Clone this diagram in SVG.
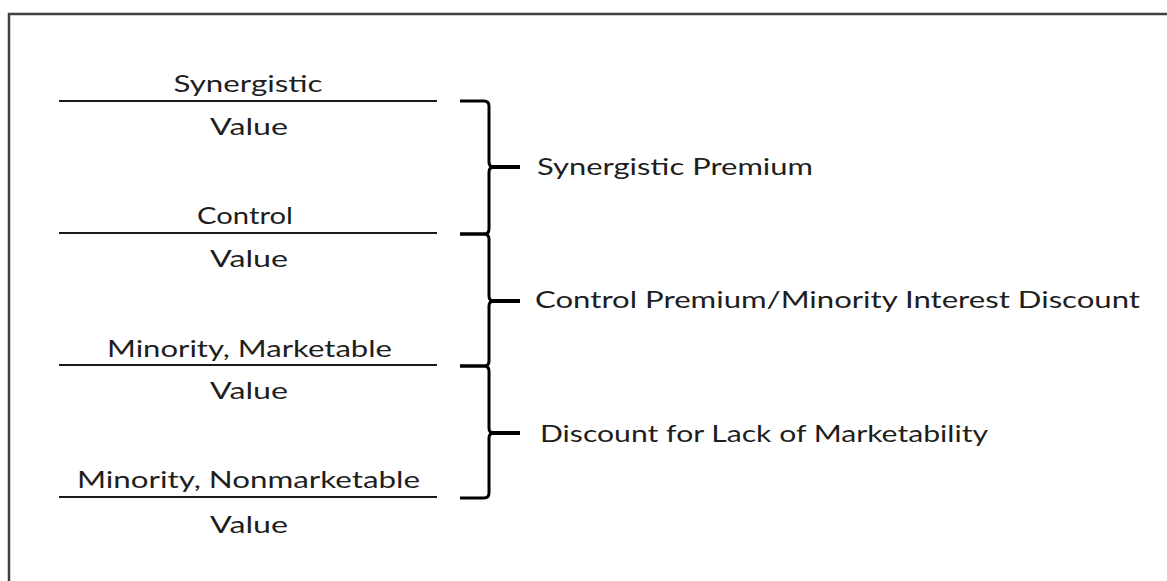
<svg xmlns="http://www.w3.org/2000/svg" width="1167" height="581" viewBox="0 0 1167 581">
<style>
text{font-family:Lato,"Open Sans","Liberation Sans",sans-serif;font-size:24px;fill:#1e1e1e}
.c{text-anchor:middle}
.rule{stroke:#1a1a1a;stroke-width:2}
.brace{fill:none;stroke:#000;stroke-width:3;stroke-linejoin:round}
.tip{stroke:#000;stroke-width:4}
</style>
<rect x="0" y="0" width="1167" height="581" fill="#fff"/>
<path d="M9,600 V14 H1180" fill="none" stroke="#404040" stroke-width="2.5"/>
<g id="synergistic-value">
<line class="rule" x1="59" y1="101" x2="437" y2="101"/>
<text class="c" x="248" y="92" textLength="149" lengthAdjust="spacingAndGlyphs">Synergistic</text>
<text class="c" x="249" y="135" textLength="78" lengthAdjust="spacingAndGlyphs">Value</text>
</g>
<g id="control-value">
<line class="rule" x1="59" y1="233" x2="437" y2="233"/>
<text class="c" x="245" y="224" textLength="96" lengthAdjust="spacingAndGlyphs">Control</text>
<text class="c" x="249" y="267" textLength="78" lengthAdjust="spacingAndGlyphs">Value</text>
</g>
<g id="minority-marketable-value">
<line class="rule" x1="59" y1="365" x2="437" y2="365"/>
<text class="c" x="249.5" y="357" textLength="285" lengthAdjust="spacingAndGlyphs">Minority, Marketable</text>
<text class="c" x="249" y="399" textLength="78" lengthAdjust="spacingAndGlyphs">Value</text>
</g>
<g id="minority-nonmarketable-value">
<line class="rule" x1="59" y1="497" x2="437" y2="497"/>
<text class="c" x="248.5" y="488" textLength="343" lengthAdjust="spacingAndGlyphs">Minority, Nonmarketable</text>
<text class="c" x="249" y="533" textLength="78" lengthAdjust="spacingAndGlyphs">Value</text>
</g>
<g id="connectors">
<path class="brace" d="M460,101 H484 Q489,101 489,106 V162 Q489,167 494,167 Q489,167 489,172 V229 Q489,234 484,234 H460"/>
<line class="tip" x1="492" y1="167" x2="520" y2="167"/>
<path class="brace" d="M460,234 H484 Q489,234 489,239 V296 Q489,301 494,301 Q489,301 489,306 V361 Q489,366 484,366 H460"/>
<line class="tip" x1="492" y1="301" x2="520" y2="301"/>
<path class="brace" d="M460,366 H484 Q489,366 489,371 V428 Q489,433 494,433 Q489,433 489,438 V493 Q489,498 484,498 H460"/>
<line class="tip" x1="492" y1="433" x2="520" y2="433"/>
</g>
<g id="synergistic-premium">
<text x="537" y="175" textLength="276" lengthAdjust="spacingAndGlyphs">Synergistic Premium</text>
</g>
<g id="control-premium">
<text x="535" y="308" textLength="605" lengthAdjust="spacingAndGlyphs">Control Premium/Minority Interest Discount</text>
</g>
<g id="dlom">
<text x="540" y="442" textLength="448" lengthAdjust="spacingAndGlyphs">Discount for Lack of Marketability</text>
</g>
</svg>
